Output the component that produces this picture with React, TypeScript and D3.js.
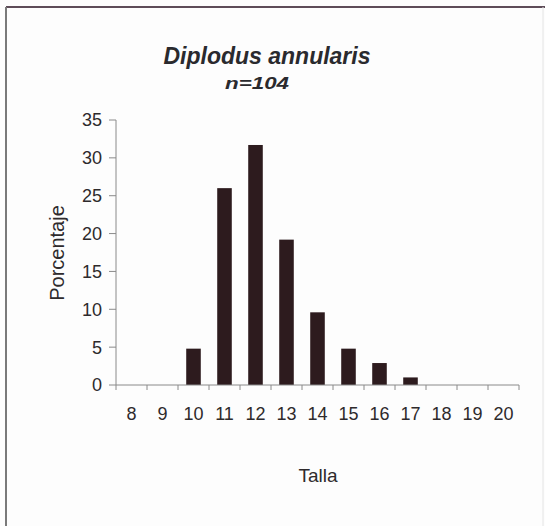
import React from "react";
import * as d3 from "d3";

const categories = ["8", "9", "10", "11", "12", "13", "14", "15", "16", "17", "18", "19", "20"];
const percentages = [0, 0, 4.8, 26.0, 31.7, 19.2, 9.6, 4.8, 2.9, 1.0, 0, 0, 0];
const yTicks = [0, 5, 10, 15, 20, 25, 30, 35];
const title = "Diplodus annularis";
const subtitle = "n=104";
const xTitle = "Talla";
const yTitle = "Porcentaje";

export default function App() {
  const W = 545, H = 526;
  const left = 116, right = 519, top = 120, bottom = 385;
  const x = d3.scaleBand<string>().domain(categories).range([left, right]).paddingInner(0).paddingOuter(0);
  const y = d3.scaleLinear().domain([0, 35]).range([bottom, top]);
  const barW = x.bandwidth() * 0.47;
  const font = "Arial, 'Liberation Sans', sans-serif";
  const axisColor = "#8a8a8a";
  const textColor = "#2e2a2c";
  return (
    <svg width={W} height={H} style={{ position: "absolute", left: 0, top: 0 }} fontFamily={font}>
      <rect x={0} y={0} width={W} height={H} fill="#fdfdfd" />
      <line x1={6} y1={7} x2={545} y2={7} stroke="#5e4c58" strokeWidth={2} />
      <line x1={6} y1={7} x2={6} y2={526} stroke="#7a7a7a" strokeWidth={2} />
      <line x1={543} y1={7} x2={543} y2={526} stroke="#e4e4e4" strokeWidth={1} />
      <text x={267} y={64} textAnchor="middle" fontSize={23} fontWeight="bold" fontStyle="italic" fill="#2a2a2e">{title}</text>
      <text x={257} y={89} textAnchor="middle" fontSize={17} fontWeight="bold" fontStyle="italic" fill="#2a2a2e" textLength={64} lengthAdjust="spacingAndGlyphs">{subtitle}</text>
      {categories.map((c, i) => (
        percentages[i] > 0 ? (
          <rect key={c} x={(x(c) as number) + (x.bandwidth() - barW) / 2} y={y(percentages[i])} width={barW} height={bottom - y(percentages[i])} fill="#2d1b1e" />
        ) : null
      ))}
      <line x1={left} y1={top} x2={left} y2={bottom} stroke={axisColor} strokeWidth={1} />
      <line x1={left} y1={bottom} x2={right} y2={bottom} stroke={axisColor} strokeWidth={1} />
      {yTicks.map(t => (
        <g key={t}>
          <line x1={left - 7} y1={y(t)} x2={left} y2={y(t)} stroke={axisColor} />
          <text x={102} y={y(t)} dy="0.36em" textAnchor="end" fontSize={18} fill={textColor}>{t}</text>
        </g>
      ))}
      {[...categories.map(c => x(c) as number), right].map((p, i) => (
        <line key={i} x1={p} y1={bottom} x2={p} y2={bottom + 5} stroke={axisColor} />
      ))}
      {categories.map(c => (
        <text key={c} x={(x(c) as number) + x.bandwidth() / 2} y={420} textAnchor="middle" fontSize={18} fill={textColor}>{c}</text>
      ))}
      <text x={318} y={482} textAnchor="middle" fontSize={19} fill={textColor}>{xTitle}</text>
      <text transform={`translate(64, 253) rotate(-90)`} textAnchor="middle" fontSize={20} fill={textColor}>{yTitle}</text>
    </svg>
  );
}
